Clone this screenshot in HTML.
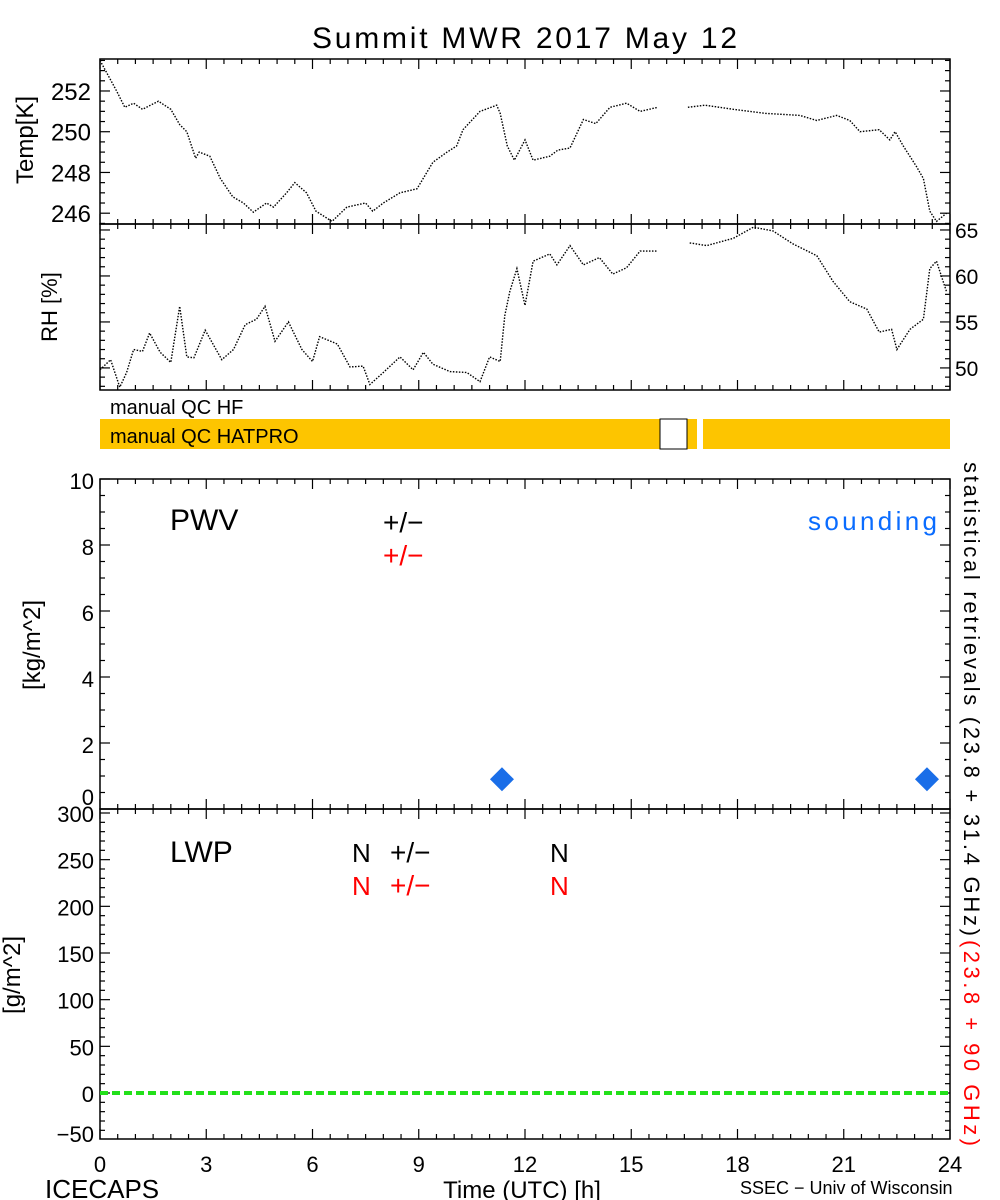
<!DOCTYPE html>
<html><head><meta charset="utf-8"><style>
html,body{margin:0;padding:0;background:#fff;}
svg{display:block;font-family:"Liberation Sans",sans-serif;}
</style></head><body>
<svg id="chart" width="1000" height="1200" viewBox="0 0 1000 1200" xmlns="http://www.w3.org/2000/svg">
<text x="312" y="48" font-size="30" textLength="425" lengthAdjust="spacing">Summit MWR 2017 May 12</text>
<g id="g"></g>
</svg>
<script>
const tempHours=[0,0.47,0.7,0.95,1.2,1.65,2.0,2.25,2.45,2.7,2.8,3.1,3.4,3.75,4.05,4.33,4.7,4.9,5.27,5.5,5.83,6.1,6.55,6.97,7.5,7.7,8.0,8.47,8.95,9.4,9.8,10.07,10.25,10.73,11.2,11.3,11.5,11.7,12.0,12.23,12.7,12.93,13.27,13.65,14.0,14.4,14.87,15.25,15.75,null,16.6,17.08,17.88,18.8,19.76,20.24,20.8,21.17,21.46,22.0,22.3,22.45,22.68,23.05,23.25,23.43,23.62,23.9];
const tempValues=[253.5,252.0,251.2,251.4,251.1,251.5,251.1,250.35,250.0,248.7,249.0,248.8,247.7,246.8,246.5,246.05,246.5,246.3,247.0,247.5,247.0,246.1,245.6,246.3,246.5,246.1,246.5,247.0,247.2,248.5,249.0,249.3,250.1,251.0,251.3,250.9,249.3,248.6,249.6,248.6,248.8,249.1,249.2,250.6,250.4,251.2,251.4,251.0,251.2,null,251.2,251.3,251.1,250.9,250.8,250.55,250.8,250.55,250.0,250.1,249.6,250.0,249.3,248.3,247.7,246.1,245.6,246.0];
const rhHours=[0,0.3,0.56,0.75,0.95,1.2,1.4,1.7,2.0,2.25,2.45,2.65,2.97,3.44,3.77,4.1,4.42,4.66,4.94,5.32,5.7,6.0,6.2,6.7,7.06,7.43,7.62,8.0,8.47,8.84,9.13,9.4,9.88,10.36,10.73,11.0,11.3,11.43,11.57,11.77,12.0,12.23,12.7,12.9,13.27,13.65,14.1,14.48,14.87,15.25,15.75,null,16.65,17.13,17.88,18.45,19.0,19.56,20.24,20.7,21.17,21.65,22.0,22.35,22.5,22.87,23.25,23.43,23.62,23.9];
const rhValues=[49.8,50.9,47.9,49.5,52,51.8,53.8,51.7,50.6,56.7,51.2,51.1,54.1,50.9,52,54.7,55.3,56.7,52.9,55,52,50.7,53.4,52.6,50.1,50.2,48.2,49.5,51.2,49.8,51.7,50.4,49.6,49.5,48.5,51.2,50.7,55.7,58.3,60.8,56.8,61.6,62.4,61.2,63.3,61.2,62,60.2,60.9,62.7,62.7,null,63.6,63.3,64.1,65.3,64.9,63.5,62.2,59.4,57.2,56.4,53.9,54.2,52,54.2,55.3,60.8,61.6,58.3];
const soundingHours=[11.35,23.35];
const soundingPWV=[0.9,0.9];
const lwpHours=[0,24];
const lwpValues=[0,0];
const xTicks=[0,3,6,9,12,15,18,21,24];
const tempTicks=[246,248,250,252];
const rhTicks=[50,55,60,65];
const pwvTicks=[0,2,4,6,8,10];
const lwpTicks=[-50,0,50,100,150,200,250,300];

const NS="http://www.w3.org/2000/svg";
const g=document.getElementById('g');
const X0=100,X1=950;
const x=h=>X0+(h/24)*(X1-X0);
const lin=(d0,d1,r0,r1)=>v=>r0+(v-d0)/(d1-d0)*(r1-r0);
const P={
 temp:{top:59,bot:224,y:lin(245.47,253.57,224,59)},
 rh:{top:224,bot:390,y:lin(47.6,65.65,390,224)},
 pwv:{top:479,bot:809,y:lin(0,10,809,479)},
 lwp:{top:809,bot:1139,y:lin(0,300,1093,813)}
};
function el(tag,attrs,parent){const e=document.createElementNS(NS,tag);for(const k in attrs)e.setAttribute(k,attrs[k]);(parent||g).appendChild(e);return e;}
function txt(s,attrs){const e=el('text',attrs);e.textContent=s;return e;}

for(const key of ['temp','rh','pwv','lwp']){
 const p=P[key];
 const fr=el('rect',{x:X0,y:p.top,width:X1-X0,height:p.bot-p.top,fill:'none',stroke:'#000','stroke-width':1.5});
 
 
 for(let h=0;h<=24;h+=0.5){
  const L=(h%3===0)?10:5;
  el('line',{x1:x(h),x2:x(h),y1:p.top,y2:p.top+L,stroke:'#000','stroke-width':1.2});
  el('line',{x1:x(h),x2:x(h),y1:p.bot,y2:p.bot-L,stroke:'#000','stroke-width':1.2});
 }
}
function yTicks(p,ticks,minorStep,lo,hi){
 for(let v=lo;v<=hi+1e-9;v+=minorStep){
  const yy=p.y(v); if(yy<p.top-0.5||yy>p.bot+0.5)continue;
  const major=ticks.some(t=>Math.abs(t-v)<1e-6);
  const L=major?10:5;
  el('line',{x1:X0,x2:X0+L,y1:yy,y2:yy,stroke:'#000','stroke-width':1.2});
  el('line',{x1:X1,x2:X1-L,y1:yy,y2:yy,stroke:'#000','stroke-width':1.2});
 }
}
yTicks(P.temp,tempTicks,0.5,245.5,253.5);
yTicks(P.rh,rhTicks,1,48,65);
yTicks(P.pwv,pwvTicks,0.5,0,10);
yTicks(P.lwp,lwpTicks,10,-50,300);

tempTicks.forEach(v=>{const t=txt(String(v),{x:91,y:P.temp.y(v)+9,'font-size':24,'text-anchor':'end'});
 });
rhTicks.forEach(v=>{const t=txt(String(v),{x:955,y:P.rh.y(v)+8,'font-size':21});
 });
pwvTicks.forEach(v=>{const t=txt(String(v),{x:94,y:Math.min(P.pwv.y(v)+10,805),'font-size':22,'text-anchor':'end'});
 });
lwpTicks.forEach(v=>{const t=txt(v<0?'\u2212'+(-v):String(v),{x:94,y:Math.min(P.lwp.y(v)+9,1142),'font-size':22,'text-anchor':'end'});
 });
xTicks.forEach(v=>{const t=txt(String(v),{x:x(v),y:1172,'font-size':22,'text-anchor':'middle'});
 });

function series(hours,vals,p,name){
 let segs=[],cur=[];
 hours.forEach((h,i)=>{if(h===null||vals[i]===null){if(cur.length)segs.push(cur);cur=[];}else cur.push(x(h).toFixed(1)+','+p.y(vals[i]).toFixed(1));});
 if(cur.length)segs.push(cur);
 segs.forEach(s=>{const l=el('polyline',{points:s.join(' '),fill:'none',stroke:'#000','stroke-width':1.4,'stroke-dasharray':'1.5 1.5'});
  });
}
series(tempHours,tempValues,P.temp,'temp-series');
series(rhHours,rhValues,P.rh,'rh-series');

const lw=el('line',{x1:x(lwpHours[0]),x2:x(lwpHours[1]),y1:P.lwp.y(lwpValues[0]),y2:P.lwp.y(lwpValues[1]),stroke:'#22e01a','stroke-width':4,'stroke-dasharray':'8 4'});



soundingHours.forEach((h,i)=>{const cx=x(h),cy=P.pwv.y(soundingPWV[i]);
 const d=el('polygon',{points:`${cx},${cy-12} ${cx+12},${cy} ${cx},${cy+12} ${cx-12},${cy}`,fill:'#1a6ee8'});
 
 
});

const q1=txt('manual  QC  HF',{x:110,y:414,'font-size':20});

const qb=el('rect',{x:100,y:419,width:850,height:30,fill:'#fdc500'});

el('rect',{x:660,y:419,width:27,height:30,fill:'#fff',stroke:'#000','stroke-width':1});
el('rect',{x:697,y:419,width:6,height:30,fill:'#fff'});
const q2=txt('manual  QC  HATPRO',{x:110,y:443,'font-size':20});


function lab(s,a,name,fill){const t=txt(s,a);if(fill)t.setAttribute('fill',fill);return t;}
lab('Temp[K]',{x:0,y:0,'font-size':24,'text-anchor':'middle',transform:'translate(33,140) rotate(-90)'},'temp-axis-title');
lab('RH [%]',{x:0,y:0,'font-size':22,'text-anchor':'middle',transform:'translate(57,307) rotate(-90)'},'rh-axis-title');
lab('[kg/m^2]',{x:0,y:0,'font-size':24,'text-anchor':'middle',transform:'translate(40,645) rotate(-90)'},'pwv-axis-title');
lab('[g/m^2]',{x:0,y:0,'font-size':24,'text-anchor':'middle',transform:'translate(20,975) rotate(-90)'},'lwp-axis-title');
lab('PWV',{x:170,y:530,'font-size':30},'pwv-label');
lab('+/\u2212',{x:383,y:532,'font-size':28},'pwv-uncert-black');
lab('+/\u2212',{x:383,y:565,'font-size':28},'pwv-uncert-red','#ff0000');
lab('sounding',{x:808,y:530,'font-size':26,textLength:129,lengthAdjust:'spacing'},'sounding-legend','#0a6cff');
lab('LWP',{x:170,y:862,'font-size':30},'lwp-label');
lab('N',{x:352,y:862,'font-size':26},'lwp-n-black');
lab('+/\u2212',{x:390,y:862,'font-size':28},'lwp-uncert-black');
lab('N',{x:550,y:862,'font-size':26},'lwp-n2-black');
lab('N',{x:352,y:895,'font-size':26},'lwp-n-red','#ff0000');
lab('+/\u2212',{x:390,y:895,'font-size':28},'lwp-uncert-red','#ff0000');
lab('N',{x:550,y:895,'font-size':26},'lwp-n2-red','#ff0000');
const rt=lab('',{x:0,y:0,'font-size':22,transform:'translate(964,462) rotate(90)'},'right-axis-title');
const s1=document.createElementNS(NS,'tspan');s1.textContent='statistical retrievals (23.8 + 31.4 GHz)';s1.setAttribute('textLength','474');s1.setAttribute('lengthAdjust','spacing');rt.appendChild(s1);
const s2=document.createElementNS(NS,'tspan');s2.textContent='(23.8 + 90 GHz)';s2.setAttribute('fill','#ff0000');s2.setAttribute('x','478');s2.setAttribute('textLength','206');s2.setAttribute('lengthAdjust','spacing');rt.appendChild(s2);
lab('ICECAPS',{x:45,y:1198,'font-size':26},'icecaps-label');
lab('Time (UTC) [h]',{x:522,y:1198,'font-size':24,'text-anchor':'middle'},'x-axis-title');
lab('SSEC \u2212 Univ of Wisconsin',{x:740,y:1194,'font-size':18},'ssec-credit');
</script>
</body></html>
